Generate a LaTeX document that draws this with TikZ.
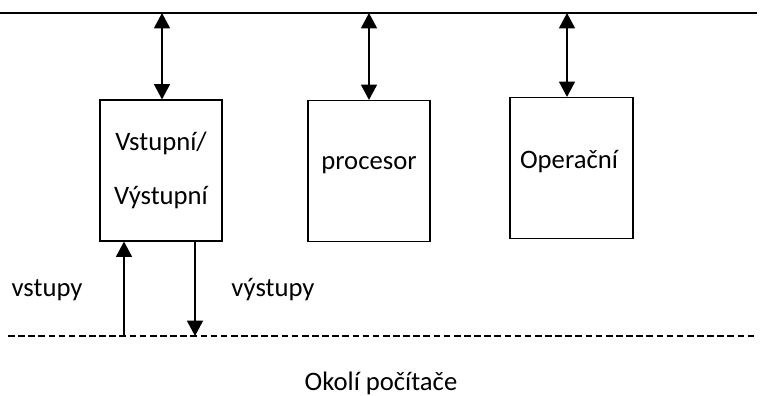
\documentclass[tikz,border=0pt]{standalone}
\usepackage{fontspec}
\setmainfont{Carlito}
\usetikzlibrary{arrows.meta}
\begin{document}
\begin{tikzpicture}[x=0.75pt,y=-0.75pt,
  box/.style={draw=black,line width=1.1pt,minimum width=91.5pt,minimum height=105.5pt,inner sep=0pt},
  txt/.style={font=\fontsize{20}{24}\selectfont,inner sep=0pt},
  conn/.style={line width=1.1pt,-{Triangle[length=11.5pt,width=12pt]}},
  dconn/.style={line width=1.1pt,{Triangle[length=11.5pt,width=12pt]}-{Triangle[length=11.5pt,width=12pt]}},
  busline/.style={line width=1.5pt},
  envline/.style={line width=1.1pt,dash pattern=on 5pt off 2.6pt}]
\useasboundingbox (0,0) rectangle (761,396);
% boxes
\node[box] (io) at (161,170.5) {};
\node[box] (cpu) at (369,171) {};
\node[box,minimum width=92.25pt] (mem) at (571.5,168) {};
% texts in boxes
\node[txt] (io1) at (161,143) {Vstupní/};
\node[txt] (io2) at (161,198) {Výstupní};
\node[txt] (cpuT) at (369,165) {procesor};
\node[txt] (memT) at (569,162) {Operační};
% bus
\coordinate (busL) at (0,13);
\coordinate (busR) at (757,13);
\draw[busline] (busL) -- (busR);
\coordinate (b1) at (162,13);
\coordinate (b2) at (369,13);
\coordinate (b3) at (567,13);
\draw[dconn] (b1) -- (b1 |- io.north);
\draw[dconn] (b2) -- (b2 |- cpu.north);
\draw[dconn] (b3) -- (b3 |- mem.north);
% environment
\coordinate (envL) at (8,336);
\coordinate (envR) at (757,336);
\draw[envline] (envL) -- (envR);
\coordinate (e1) at (124,336);
\coordinate (e2) at (195,336);
\draw[conn] (e1) -- (e1 |- io.south);
\draw[conn] (e2 |- io.south) -- (e2);
\node[txt] (inL) at (47,290) {vstupy};
\node[txt] (outL) at (273,290) {výstupy};
\node[txt] (envT) at (381,383) {Okolí počítače};
\end{tikzpicture}
\end{document}
